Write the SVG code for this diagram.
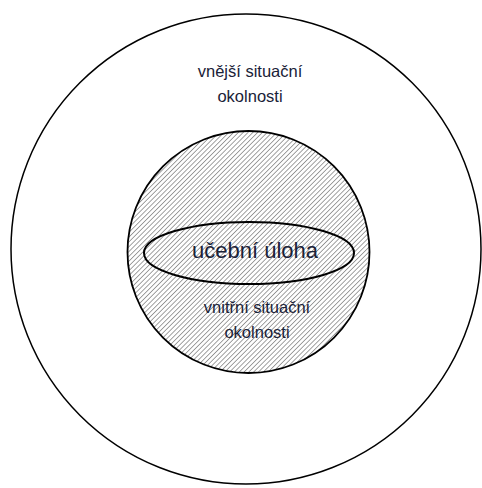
<svg xmlns="http://www.w3.org/2000/svg" width="482" height="488" viewBox="0 0 482 488">
<defs>
<pattern id="hatch" width="3.4" height="3.4" patternUnits="userSpaceOnUse" patternTransform="rotate(45)">
<rect width="3.4" height="3.4" fill="#ffffff"/>
<line x1="0" y1="0" x2="0" y2="3.4" stroke="#707070" stroke-width="1.3"/>
</pattern>
</defs>
<style>
.t{font-family:"Liberation Sans",Arial,sans-serif;fill:#1a2238;text-anchor:middle}
.s{font-size:16.5px}
.b{font-size:22px}
.o{fill:none;stroke:#000;stroke-width:1.5}
</style>
<rect width="482" height="488" fill="#ffffff"/>
<g id="outer">
<circle class="o" cx="246" cy="249" r="235"/>
<text class="t s" x="250" y="77">vnější situační</text>
<text class="t s" x="250" y="102">okolnosti</text>
</g>
<g id="inner">
<circle cx="248.5" cy="252" r="121" fill="url(#hatch)" stroke="#000" stroke-width="1.8"/>
<text class="t s" x="257" y="313">vnitřní situační</text>
<text class="t s" x="257" y="338">okolnosti</text>
</g>
<g id="task">
<ellipse cx="249" cy="253" rx="105" ry="31" fill="none" stroke="#000" stroke-width="2"/>
<text class="t b" x="255" y="258">učební úloha</text>
</g>
<g id="connectors"/>
</svg>
